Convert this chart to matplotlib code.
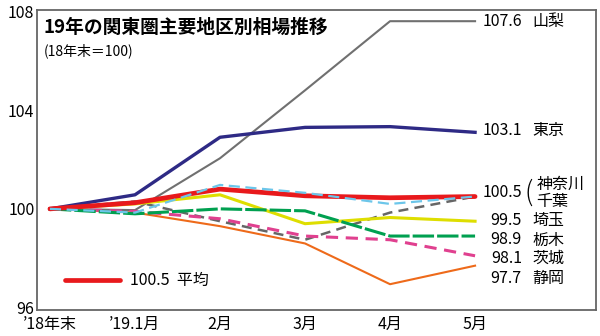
import matplotlib
matplotlib.use("Agg")
import matplotlib.pyplot as plt

plt.rcParams["font.family"] = ["Noto Sans CJK JP", "DejaVu Sans"]

# ── data ────────────────────────────────────────────────────────────────
months = ["\u201918年末", "\u201919.1月", "2月", "3月", "4月", "5月"]

yamanashi = [100, 99.95, 102.05, 104.8, 107.6, 107.6]
tokyo = [100, 100.57, 102.9, 103.3, 103.33, 103.1]
kanagawa = [100, 99.85, 100.97, 100.65, 100.2, 100.5]
chiba = [100, 100.3, 99.5, 98.75, 99.85, 100.5]
saitama = [100, 100.2, 100.57, 99.4, 99.65, 99.5]
tochigi = [100, 99.8, 100.0, 99.92, 98.9, 98.9]
ibaraki = [100, 99.9, 99.6, 98.9, 98.75, 98.1]
shizuoka = [100, 99.85, 99.3, 98.6, 96.95, 97.7]
average = [100, 100.25, 100.8, 100.53, 100.45, 100.5]

end_values = ["107.6", "103.1", "100.5", "99.5", "98.9", "98.1", "97.7"]
end_names = ["山梨", "東京", None, "埼玉", "栃木", "茨城", "静岡"]
yticks = [96, 100, 104, 108]

# ── figure ──────────────────────────────────────────────────────────────
fig = plt.figure(figsize=(6, 3.36), dpi=100)
ax = fig.add_axes([0.062, 0.077, 0.931, 0.893])
x = range(len(months))

ax.plot(x, shizuoka, color="#ee6a1a", lw=1.5)
ax.plot(x, yamanashi, color="#707070", lw=1.5)
ax.plot(x, chiba, color="#666666", lw=1.8, dashes=(4, 2.5))
ax.plot(x, ibaraki, color="#e0408f", lw=2.2, dashes=(4, 2.5))
ax.plot(x, saitama, color="#dede00", lw=2.2)
ax.plot(x, tochigi, color="#00a050", lw=2.2, dashes=(7, 1))
ax.plot(x, tokyo, color="#2e2a85", lw=2.4)
ax.plot(x, average, color="#e8191c", lw=3.4, solid_capstyle="round")
ax.plot(x, kanagawa, color="#6cc6ea", lw=1.6, dashes=(5, 2.5))

ax.set_xlim(-0.15, 6.42)
ax.set_ylim(95.9, 108.05)
ax.set_xticks(list(x))
ax.set_xticklabels(months, fontsize=11.5)
ax.set_yticks(yticks)
ax.set_yticklabels([str(v) for v in yticks], fontsize=11.5)
ax.tick_params(axis="x", length=0, pad=4)
ax.tick_params(axis="y", length=0, pad=2)
for spine in ax.spines.values():
    spine.set_color("#666666")
    spine.set_linewidth(1.3)

# right-hand value labels
label_y = [107.57, 103.16, 100.65, 99.51, 98.74, 97.98, 97.2]
for val, name, ly in zip(end_values, end_names, label_y):
    ax.text(5.55, ly, val, ha="right", va="center", fontsize=11.5)
    if name:
        ax.text(5.67, ly, name, ha="left", va="center", fontsize=11.5)
ax.text(5.58, 100.65, "(", ha="left", va="center", fontsize=19,
        fontweight="light")
ax.text(5.72, 101.0, "神奈川", ha="left", va="center", fontsize=11.5)
ax.text(5.72, 100.28, "千葉", ha="left", va="center", fontsize=11.5)

# legend for the average
ax.plot([0.05, 0.148], [0.1, 0.1], transform=ax.transAxes,
        color="#e8191c", lw=3.4, solid_capstyle="round")
ax.text(0.167, 0.1, "100.5  平均", transform=ax.transAxes,
        ha="left", va="center", fontsize=11.5)

ax.text(0.011, 0.943, "19年の関東圏主要地区別相場推移", transform=ax.transAxes,
        ha="left", va="center", fontsize=13.5, fontweight="bold")
ax.text(0.011, 0.865, "(18年末＝100)", transform=ax.transAxes,
        ha="left", va="center", fontsize=10)

fig.savefig("out.png", dpi=100)
